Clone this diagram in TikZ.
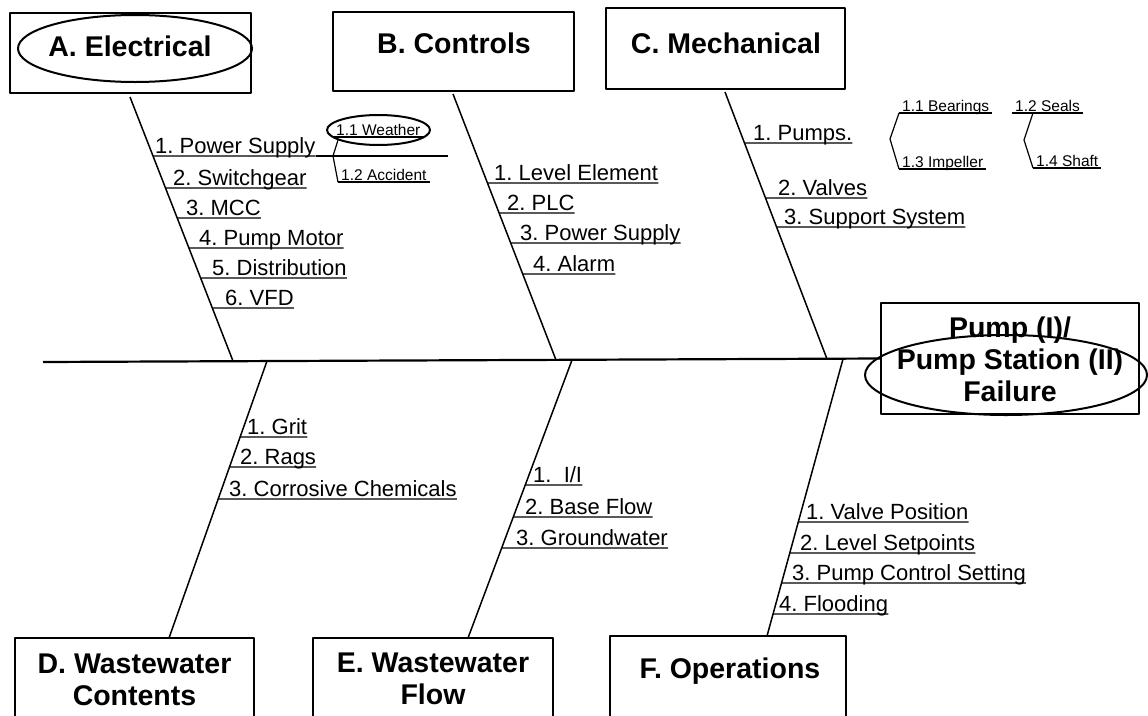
\documentclass[tikz,border=0pt]{standalone}
\usepackage{fontspec}
\setmainfont{Liberation Sans}
\usetikzlibrary{calc}
\frenchspacing

\tikzset{
  box/.style={draw, line width=1.4pt, inner sep=0pt},
  title/.style={font=\fontsize{28.5}{32}\selectfont\bfseries, align=center, anchor=base, inner sep=0pt},
  item/.style={font=\fontsize{22}{24}\selectfont, anchor=south west, inner xsep=0pt, inner ysep=2pt, text depth=0pt},
  subitem/.style={item, font=\fontsize{15.5}{17}\selectfont, inner xsep=3pt, inner ysep=1.8pt},
  bone/.style={line width=1.5pt},
  spine/.style={line width=2.2pt},
  uline/.style={line width=1.3pt},
  twig/.style={line width=1.2pt},
  ring/.style={line width=2pt},
}

\begin{document}
\begin{tikzpicture}[x=1pt, y=-1pt, line join=round]
\clip (0,0) rectangle (1148,715);

% category boxes
\node[box, minimum width=241pt, minimum height=80pt] (A) at (130.5,53) {};
\node[box, minimum width=241pt, minimum height=79pt] (B) at (453.5,51.5) {};
\node[box, minimum width=239pt, minimum height=81pt] (C) at (725.5,48.5) {};
\node[box, minimum width=239pt, minimum height=102pt] (D) at (134.5,689) {};
\node[box, minimum width=240pt, minimum height=102pt] (E) at (433,689) {};
\node[box, minimum width=236pt, minimum height=104pt] (F) at (728,688) {};
\node[box, minimum width=258pt, minimum height=111pt] (H) at (1010,358.5) {};

% titles (base = last line)
\node[title] (At) at (130,56) {A. Electrical};
\node[title] (Bt) at (454,53) {B. Controls};
\node[title] (Ct) at (726,53) {C. Mechanical};
\node[title] (Dt) at (134.5,705) {D. Wastewater\\Contents};
\node[title] (Et) at (433,704) {E. Wastewater\\Flow};
\node[title] (Ft) at (730,678) {F. Operations};
\node[title] (Ht) at (1010,401) {Pump (I)/\\Pump Station (II)\\Failure};

% spine and bones
\coordinate (tail) at (43,362);
\draw[spine] (tail) -- (H.west);

\coordinate (A-t) at (130,97);  \coordinate (A-b) at (233,361);
\coordinate (B-t) at (453,94);  \coordinate (B-b) at (556,360);
\coordinate (C-t) at (725,92);  \coordinate (C-b) at (827,359);
\coordinate (D-t) at (267,361); \coordinate (D-b) at (169,638);
\coordinate (E-t) at (572,360); \coordinate (E-b) at (468,638);
\coordinate (F-t) at (843,359); \coordinate (F-b) at (767,636);
\foreach \b in {A,B,C,D,E,F}
  \draw[bone] (\b-t) -- (\b-b);

% causes
\foreach \nm/\px/\py/\txt in {a1/155/156/{1. Power Supply}, a2/173/188/{2. Switchgear},
    a3/186/218/{3. MCC}, a4/199/248/{4. Pump Motor}, a5/212/278/{5. Distribution}, a6/225/308/{6. VFD}}{
  \node[item] (\nm) at (\px,\py) {\txt};
  \draw[uline] (intersection of A-t--A-b and \nm.south west--\nm.south east) -- (\nm.south east);
}
\foreach \nm/\px/\py/\txt in {b1/494/183/{1. Level Element}, b2/507/213/{2. PLC},
    b3/520/243/{3. Power Supply}, b4/533/274/{4. Alarm}}{
  \node[item] (\nm) at (\px,\py) {\txt};
  \draw[uline] (intersection of B-t--B-b and \nm.south west--\nm.south east) -- (\nm.south east);
}
\foreach \nm/\px/\py/\txt in {c1/753/143/{1. Pumps.}, c2/778/198/{2. Valves}, c3/784/227/{3. Support System}}{
  \node[item] (\nm) at (\px,\py) {\txt};
  \draw[uline] (intersection of C-t--C-b and \nm.south west--\nm.south east) -- (\nm.south east);
}
\foreach \nm/\px/\py/\txt in {d1/247/437/{1. Grit}, d2/240/467/{2. Rags}, d3/229/499/{3. Corrosive Chemicals}}{
  \node[item] (\nm) at (\px,\py) {\txt};
  \draw[uline] (intersection of D-t--D-b and \nm.south west--\nm.south east) -- (\nm.south east);
}
\foreach \nm/\px/\py/\txt in {e1/533/485/{1.\ \ I/I}, e2/525/517/{2. Base Flow}, e3/516/548/{3. Groundwater}}{
  \node[item] (\nm) at (\px,\py) {\txt};
  \draw[uline] (intersection of E-t--E-b and \nm.south west--\nm.south east) -- (\nm.south east);
}
\foreach \nm/\px/\py/\txt in {f1/806/522/{1. Valve Position}, f2/800/553/{2. Level Setpoints},
    f3/792/583/{3. Pump Control Setting}, f4/779/614/{4. Flooding}}{
  \node[item] (\nm) at (\px,\py) {\txt};
  \draw[uline] (intersection of F-t--F-b and \nm.south west--\nm.south east) -- (\nm.south east);
}

% sub causes
\coordinate (a1end) at (448,156);
\draw[uline] (a1.south east) -- (a1end);
\node[subitem] (a11) at (333,137) {1.1 Weather};
\node[subitem] (a12) at (338,182) {1.2 Accident};
\coordinate (a1f) at (338,140);
\coordinate (a1k) at (333,156);
\draw[twig] (a1f) -- (a1k) -- (a12.south west);

\node[subitem] (c11) at (899,113) {1.1 Bearings};
\node[subitem] (c13) at (899,169) {1.3 Impeller};
\node[subitem] (c12) at (1012,113) {1.2 Seals};
\node[subitem] (c14) at (1033,168) {1.4 Shaft};
\draw[twig] (c11.south west) -- ++(-9,26) -- (c13.south west);
\draw[twig] (c14.south west |- c12.south) -- ++(-9,27) -- (c14.south west);
\foreach \nm in {a11,a12,c11,c12,c13,c14}
  \draw[uline] (\nm.south west) -- (\nm.south east);

% rings
\draw[ring] (135,48.5) ellipse [x radius=117, y radius=33.5];
\draw[ring] (378.5,130) ellipse [x radius=51.5, y radius=15];
\draw[ring] (1006,375) ellipse [x radius=141, y radius=40];

\end{tikzpicture}
\end{document}
